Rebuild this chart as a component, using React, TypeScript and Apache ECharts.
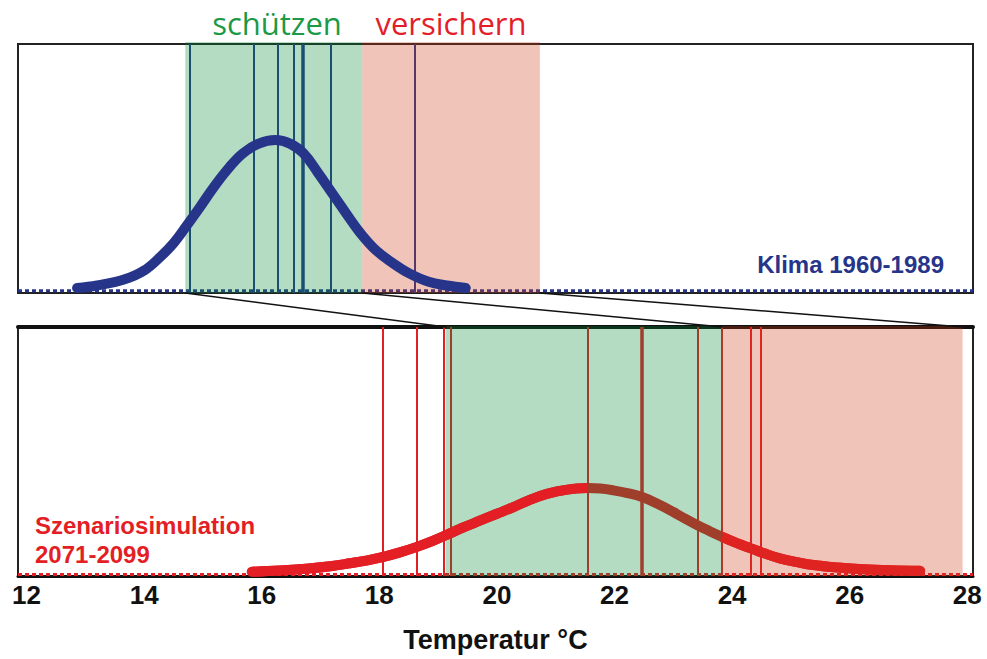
import React, { useEffect, useRef } from "react";
import * as echarts from "echarts";

// x-axis (°C)
const xMin = 11.855;
const xMax = 28.097;
const tickValues = [12, 14, 16, 18, 20, 22, 24, 26, 28];

// Klima 1960-1989 (top panel) – relative frequency
const topCurveX = [12.86, 13.2, 13.67, 14.0, 14.28, 14.5, 14.71, 14.95, 15.19, 15.45, 15.68, 15.95, 16.23, 16.48, 16.71, 16.95, 17.2, 17.45, 17.68, 17.95, 18.23, 18.5, 18.84, 19.15, 19.47];
const topCurveY = [0.02, 0.03, 0.055, 0.09, 0.146, 0.2, 0.266, 0.345, 0.427, 0.505, 0.561, 0.6, 0.614, 0.6, 0.561, 0.485, 0.4, 0.315, 0.24, 0.17, 0.12, 0.08, 0.045, 0.03, 0.02];
const topLines = [14.78, 15.86, 16.28, 16.55, 16.69, 17.17, 18.61];
const topThickLine = 16.69;
const topGreen = [14.7, 17.71];
const topRed = [17.71, 20.73];

// Szenariosimulation 2071-2099 (bottom panel)
const botCurveX = [15.83, 16.3, 16.8, 17.2, 17.5, 17.8, 18.07, 18.35, 18.64, 18.92, 19.2, 19.45, 19.71, 20.0, 20.28, 20.55, 20.85, 21.2, 21.54, 21.76, 21.98, 22.22, 22.47, 22.73, 23.0, 23.2, 23.41, 23.62, 23.83, 24.07, 24.32, 24.56, 24.81, 25.1, 25.38, 25.8, 26.23, 26.7, 27.2];
const botCurveY = [0.017, 0.022, 0.03, 0.04, 0.051, 0.063, 0.077, 0.095, 0.117, 0.142, 0.171, 0.197, 0.222, 0.25, 0.277, 0.305, 0.33, 0.347, 0.353, 0.351, 0.344, 0.333, 0.317, 0.29, 0.257, 0.23, 0.204, 0.18, 0.157, 0.133, 0.111, 0.09, 0.071, 0.056, 0.044, 0.034, 0.027, 0.023, 0.021];
const botLines = [18.05, 18.64, 19.09, 19.22, 21.54, 22.47, 23.41, 23.83, 24.32, 24.49];
const botThickLine = 22.47;
const botGreen = [19.13, 23.84];
const botRed = [23.84, 27.92];

const BLUE = "#26358a";
const RED = "#e31e25";
const BAND_COLORS = ["rgba(2,138,55,0.3)", "rgba(208,58,25,0.3)"];

const pts = (xs: number[], ys: number[], from = -Infinity, to = Infinity) =>
  xs.map((x, i) => [x, ys[i]]).filter((p) => p[0] >= from - 1e-9 && p[0] <= to + 1e-9);

export default function App() {
  const ref = useRef<HTMLDivElement>(null);
  useEffect(() => {
    if (!ref.current) return;
    const chart = echarts.init(ref.current, null, { renderer: "svg" });
    const bandSeries = (gi: number, g: number[], r: number[], top: number) => ({
      type: "custom",
      xAxisIndex: gi === 0 ? 0 : 1,
      yAxisIndex: gi,
      z: 5,
      silent: true,
      clip: false,
      data: [[g[0], g[1], 0], [r[0], r[1], 1]],
      renderItem: (params: any, api: any) => {
        const p0 = api.coord([api.value(0), top]);
        const p1 = api.coord([api.value(1), 0]);
        return {
          type: "rect",
          shape: { x: p0[0], y: p0[1], width: p1[0] - p0[0], height: p1[1] - p0[1] },
          style: { fill: BAND_COLORS[api.value(2)] },
        };
      },
    });
    const option: any = {
      animation: false,
      grid: [
        { left: 18, right: 14, top: 44, height: 249, show: true, borderColor: "#222", borderWidth: 2, backgroundColor: "transparent" },
        { left: 18, right: 14, top: 327, height: 249, show: true, borderColor: "#222", borderWidth: 2, backgroundColor: "transparent" },
      ],
      xAxis: [
        { type: "value", gridIndex: 0, min: xMin, max: xMax, axisLine: { show: false }, axisTick: { show: false }, axisLabel: { show: false }, splitLine: { show: false } },
        {
          type: "value", gridIndex: 1, min: xMin, max: xMax, position: "bottom",
          axisLine: { show: true, onZero: false, lineStyle: { color: "#111", width: 3 } },
          axisTick: { show: false },
          splitLine: { show: false },
          axisLabel: { customValues: tickValues, fontSize: 26, fontWeight: "bold", color: "#111", fontFamily: "Liberation Sans, Arial, sans-serif", margin: 6 },
          name: "Temperatur °C", nameLocation: "middle", nameGap: 50,
          nameTextStyle: { fontSize: 27, fontWeight: "bold", color: "#111", fontFamily: "Liberation Sans, Arial, sans-serif" },
        },
        {
          type: "value", gridIndex: 1, min: xMin, max: xMax, position: "top",
          axisLine: { show: true, onZero: false, lineStyle: { color: "#111", width: 4 } },
          axisTick: { show: false }, axisLabel: { show: false }, splitLine: { show: false },
        },
      ],
      yAxis: [
        { type: "value", gridIndex: 0, min: 0, max: 1, show: false },
        { type: "value", gridIndex: 1, min: 0, max: 1, show: false },
      ],
      series: [
        {
          type: "line", xAxisIndex: 0, yAxisIndex: 0, symbol: "none", z: 1,
          data: [[xMin, 0.009], [xMax, 0.009]],
          lineStyle: { color: BLUE, width: 3, type: [4, 3] },
          markLine: {
            silent: true, symbol: "none", label: { show: false },
            lineStyle: { color: BLUE, width: 2, type: "solid" },
            data: topLines.map((v) => ({ xAxis: v, lineStyle: { color: BLUE, type: "solid", width: v === topThickLine ? 3.5 : 2 } })),
          },
        },
        bandSeries(0, topGreen, topRed, 1.008),
        {
          type: "line", xAxisIndex: 0, yAxisIndex: 0, symbol: "none", smooth: 0.4, z: 10,
          data: pts(topCurveX, topCurveY),
          lineStyle: { color: BLUE, width: 10, cap: "round", join: "round" },
        },
        {
          type: "line", xAxisIndex: 1, yAxisIndex: 1, symbol: "none", z: 1,
          data: [[xMin, 0.006], [xMax, 0.006]],
          lineStyle: { color: RED, width: 3, type: [4, 3] },
          markLine: {
            silent: true, symbol: "none", label: { show: false },
            lineStyle: { color: RED, width: 2, type: "solid" },
            data: botLines.map((v) => ({ xAxis: v, lineStyle: { color: RED, type: "solid", width: v === botThickLine ? 3.5 : 2 } })),
          },
        },
        bandSeries(1, botGreen, botRed, 1.004),
        {
          type: "line", xAxisIndex: 1, yAxisIndex: 1, symbol: "none", smooth: 0.4, z: 3,
          data: pts(botCurveX, botCurveY),
          lineStyle: { color: RED, width: 10, cap: "round", join: "round" },
        },
        {
          type: "line", xAxisIndex: 1, yAxisIndex: 1, symbol: "none", smooth: 0.4, z: 10,
          data: pts(botCurveX, botCurveY, -Infinity, 21.54),
          lineStyle: { color: RED, width: 10, cap: "butt", join: "round" },
        },
        {
          type: "line", xAxisIndex: 1, yAxisIndex: 1, symbol: "none", smooth: 0.4, z: 10,
          data: pts(botCurveX, botCurveY, 23.83, Infinity),
          lineStyle: { color: "#df2320", width: 10, cap: "butt", join: "round" },
        },
      ],
    };
    chart.setOption(option);

    const topEdges = [topGreen[0], topGreen[1], topRed[1]];
    const botEdges = [botGreen[0], botGreen[1], botRed[1]];
    const connectors = topEdges.map((t, i) => {
      const a = chart.convertToPixel({ gridIndex: 0 } as any, [t, 0]) as number[];
      const b = chart.convertToPixel({ gridIndex: 1 } as any, [botEdges[i], 1]) as number[];
      return { type: "line", shape: { x1: a[0], y1: a[1], x2: b[0], y2: b[1] }, style: { stroke: "#111", lineWidth: 1.5 }, z: 100, silent: true };
    });
    chart.setOption({
      graphic: [
        ...connectors,
        { type: "text", x: 277, y: 23, style: { text: "schützen", fill: "#1a9a46", font: "31px 'Open Sans', sans-serif", textAlign: "center", textVerticalAlign: "middle" }, z: 100 },
        { type: "text", x: 451, y: 23, style: { text: "versichern", fill: "#e31e2a", font: "31px 'Open Sans', sans-serif", textAlign: "center", textVerticalAlign: "middle" }, z: 100 },
        { type: "text", x: 944, y: 264, style: { text: "Klima 1960-1989", fill: BLUE, font: "bold 24px 'Liberation Sans', Arial, sans-serif", textAlign: "right", textVerticalAlign: "middle" }, z: 100 },
        { type: "text", x: 35, y: 525, style: { text: "Szenariosimulation", fill: RED, font: "bold 24px 'Liberation Sans', Arial, sans-serif", textAlign: "left", textVerticalAlign: "middle" }, z: 100 },
        { type: "text", x: 35, y: 554, style: { text: "2071-2099", fill: RED, font: "bold 24px 'Liberation Sans', Arial, sans-serif", textAlign: "left", textVerticalAlign: "middle" }, z: 100 },
      ],
    });
    return () => chart.dispose();
  }, []);
  return <div ref={ref} style={{ position: "absolute", left: 0, top: 0, width: 987, height: 659, background: "#fff" }} />;
}
